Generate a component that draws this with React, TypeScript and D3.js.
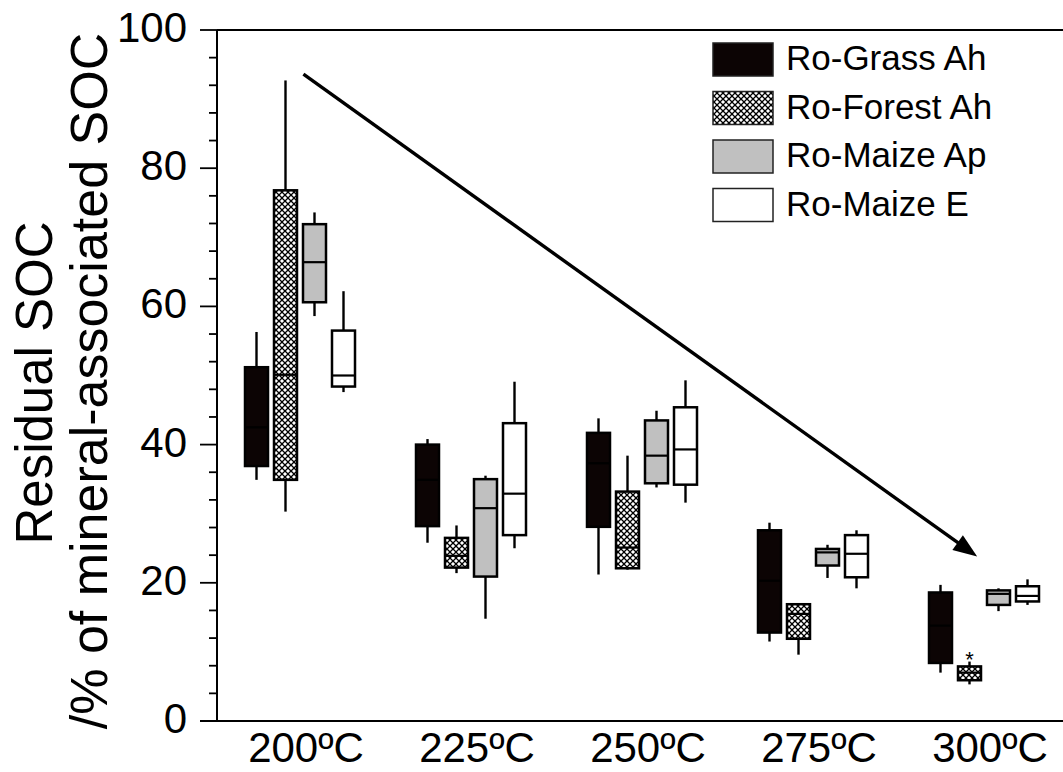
import React from "react";
import * as d3 from "d3";

// ---- data ----
const categories = ["200ºC", "225ºC", "250ºC", "275ºC", "300ºC"];
const seriesNames = ["Ro-Grass Ah", "Ro-Forest Ah", "Ro-Maize Ap", "Ro-Maize E"];
// five-number summaries per temperature: [whiskerLow, q1, median, q3, whiskerHigh]
const grassAh = [
  [34.9, 36.9, 42.5, 51.2, 56.3],
  [25.8, 28.2, 34.9, 40.0, 40.8],
  [21.2, 28.1, 37.3, 41.7, 43.8],
  [11.5, 12.8, 20.3, 27.6, 28.7],
  [7.0, 8.4, 13.8, 18.6, 19.7],
];
const forestAh = [
  [30.3, 34.9, 50.1, 76.8, 92.7],
  [21.4, 22.2, 23.9, 26.5, 28.3],
  [21.9, 22.1, 25.1, 33.2, 38.4],
  [9.6, 11.9, 15.5, 16.9, 16.9],
  [5.3, 5.9, 7.0, 7.9, 8.6],
];
const maizeAp = [
  [58.6, 60.6, 66.4, 71.9, 73.6],
  [14.8, 20.9, 30.8, 35.0, 35.5],
  [33.8, 34.4, 38.4, 43.5, 44.9],
  [20.7, 22.5, 24.4, 24.9, 25.5],
  [15.9, 16.8, 18.4, 18.9, 19.2],
];
const maizeE = [
  [47.6, 48.4, 50.0, 56.5, 62.2],
  [25.0, 26.9, 32.9, 43.1, 49.1],
  [31.6, 34.2, 39.3, 45.4, 49.3],
  [19.2, 20.8, 24.2, 26.9, 27.6],
  [16.8, 17.3, 18.1, 19.5, 20.5],
];
const seriesData = [grassAh, forestAh, maizeAp, maizeE];
// significance marker: [categoryIndex, seriesIndex, value]
const markers = [[4, 1, 9.9]];
// trend arrow in data units: [group position, value]
const arrowStart = [1.02, 93.6];
const arrowEnd = [4.96, 23.8];
const yTicksMajor = [0, 20, 40, 60, 80, 100];

const W = 1063;
const H = 772;
const FONT = "Arial, 'Liberation Sans', Helvetica, sans-serif";

export default function App() {
  const y = d3.scaleLinear().domain([0, 100]).range([721, 30]);
  const x = d3.scaleLinear().domain([1, 5]).range([300, 984]);
  const inner = d3.scaleBand<string>().domain(seriesNames).range([-58, 58]);
  const boxW = 23;
  const fills = ["#0c0404", "url(#xhatch)", "#c0c0c0", "#ffffff"];
  const minor = d3.range(0, 101, 4);

  // arrow geometry
  const ax1 = x(arrowStart[0]), ay1 = y(arrowStart[1]);
  const ax2 = x(arrowEnd[0]), ay2 = y(arrowEnd[1]);
  const ang = Math.atan2(ay2 - ay1, ax2 - ax1);
  const headL = 24, headHW = 9;
  const bx = ax2 - headL * Math.cos(ang), by = ay2 - headL * Math.sin(ang);
  const head = [
    [ax2, ay2],
    [bx + headHW * Math.sin(ang), by - headHW * Math.cos(ang)],
    [bx - headHW * Math.sin(ang), by + headHW * Math.cos(ang)],
  ];

  return (
    <svg width={W} height={H} style={{ position: "absolute", left: 0, top: 0, background: "#fff" }} fontFamily={FONT}>
      <defs>
        <pattern id="xhatch" patternUnits="userSpaceOnUse" width={6} height={6}>
          <rect width={6} height={6} fill="#fff" />
          <path d="M-1,1 l2,-2 M0,6 l6,-6 M5,7 l2,-2" stroke="#000" strokeWidth={1.3} />
          <path d="M-1,5 l2,2 M0,0 l6,6 M5,-1 l2,2" stroke="#000" strokeWidth={1.3} />
        </pattern>
      </defs>

      {/* frame lines */}
      <line x1={217} x2={W} y1={y(100)} y2={y(100)} stroke="#000" strokeWidth={2} />
      <line x1={200} x2={W} y1={y(0)} y2={y(0)} stroke="#000" strokeWidth={2} />
      <line x1={217} x2={217} y1={y(100)} y2={y(0)} stroke="#000" strokeWidth={2} />

      {/* y ticks */}
      {minor.map((v) => (
        <line key={"m" + v} x1={v % 20 === 0 ? 200 : 209} x2={217} y1={y(v)} y2={y(v)} stroke="#000" strokeWidth={1.8} />
      ))}
      {yTicksMajor.map((v) => (
        <text key={"t" + v} x={187} y={y(v) + 12} textAnchor="end" fontSize={42} fill="#000">
          {v}
        </text>
      ))}

      {/* x labels */}
      {categories.map((c, i) => (
        <text key={c} x={x(i + 1) + 6} y={762} textAnchor="middle" fontSize={42} fill="#000">
          {c}
        </text>
      ))}

      {/* axis title */}
      <g transform={`translate(52,383) rotate(-90)`}>
        <text textAnchor="middle" fontSize={51} fill="#000">Residual SOC</text>
      </g>
      <g transform={`translate(107,381) rotate(-90)`}>
        <text textAnchor="middle" fontSize={52} fill="#000">/% of mineral-associated SOC</text>
      </g>

      {/* boxes */}
      {seriesData.map((arr, si) =>
        arr.map((d, ci) => {
          const cx = x(ci + 1) + (inner(seriesNames[si]) as number) + inner.bandwidth() / 2;
          const [lo, q1, med, q3, hi] = d;
          return (
            <g key={si + "-" + ci}>
              <line x1={cx} x2={cx} y1={y(hi)} y2={y(q3)} stroke="#000" strokeWidth={2.4} />
              <line x1={cx} x2={cx} y1={y(q1)} y2={y(lo)} stroke="#000" strokeWidth={2.4} />
              <rect x={cx - boxW / 2} y={y(q3)} width={boxW} height={y(q1) - y(q3)} fill={fills[si]} stroke="#000" strokeWidth={2.5} />
              <line x1={cx - boxW / 2} x2={cx + boxW / 2} y1={y(med)} y2={y(med)} stroke="#000" strokeWidth={2.2} />
            </g>
          );
        })
      )}

      {/* markers */}
      {markers.map(([ci, si, v], k) => {
        const cx = x(ci + 1) + (inner(seriesNames[si]) as number) + inner.bandwidth() / 2;
        return (
          <text key={"mk" + k} x={cx} y={y(v) + 14} textAnchor="middle" fontSize={22} fill="#000">
            *
          </text>
        );
      })}

      {/* arrow */}
      <line x1={ax1} y1={ay1} x2={bx + 2 * Math.cos(ang)} y2={by + 2 * Math.sin(ang)} stroke="#000" strokeWidth={3.4} />
      <polygon points={head.map((p) => p.join(",")).join(" ")} fill="#000" />

      {/* legend */}
      {seriesNames.map((s, i) => {
        const top = 43 + i * 48.5;
        return (
          <g key={s}>
            <rect x={713} y={top} width={60} height={33} fill={fills[i]} stroke="#222" strokeWidth={1.5} />
            <text x={786} y={top + 27} fontSize={35} fill="#000">
              {s}
            </text>
          </g>
        );
      })}
    </svg>
  );
}
